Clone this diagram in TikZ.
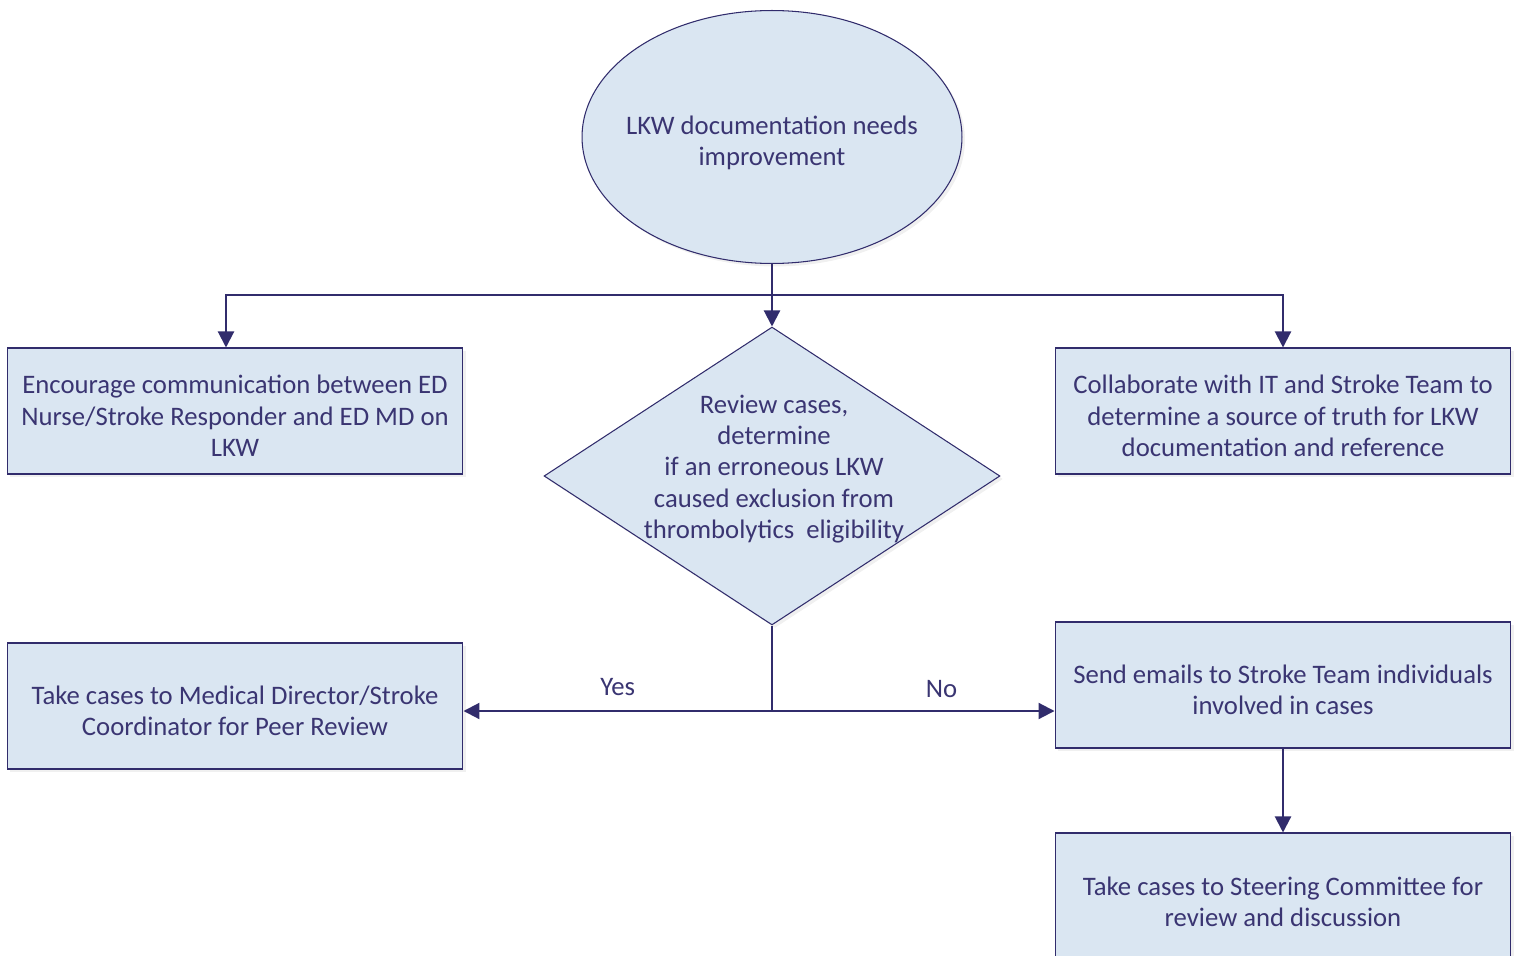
\documentclass[tikz,border=0pt]{standalone}
\usepackage{fontspec}
\setmainfont{Carlito}
\usetikzlibrary{shapes.geometric,arrows.meta,shadows}
\definecolor{navy}{HTML}{312C6C}
\definecolor{ink}{HTML}{3A3572}
\definecolor{paleblue}{HTML}{DAE6F2}

\begin{document}
\begin{tikzpicture}
[
x=0.02cm,y=-0.02cm,
>={Triangle[length=0.32cm,width=0.32cm]},
every node/.style={font=\fontsize{15.2}{17.8}\selectfont,text=ink},
conn/.style={draw=navy,line width=1.2pt},
soft/.style={drop shadow={opacity=0.12,shadow xshift=0.06cm,shadow yshift=-0.06cm}},
start/.style={ellipse,draw=navy,line width=0.6pt,fill=paleblue,minimum width=7.6cm,minimum height=5.06cm,inner sep=0pt,soft},
decision/.style={diamond,draw=navy,line width=0.6pt,fill=paleblue,minimum width=9.12cm,minimum height=5.96cm,inner sep=0pt,soft},
stepbox/.style={rectangle,draw=navy,line width=0.6pt,fill=paleblue,minimum width=9.12cm,minimum height=2.52cm,align=center,soft},
]
\useasboundingbox (0,0) rectangle (1518,956);

\node[start] (lkw) at (772,137) {};
\node[align=center] (lkwtxt) at (772,143) {LKW documentation needs\\improvement};
\node[decision] (rev) at (772,476) {};
\node[align=center] (revtxt) at (774,469) {Review cases,\\determine\\if an erroneous LKW\\caused exclusion from\\thrombolytics\ \ eligibility};
\node[stepbox] (enc) at (235,411) {};
\node[align=center] (enctxt) at (235,416) {Encourage communication between ED\\Nurse/Stroke Responder and ED MD on\\LKW};
\node[stepbox] (col) at (1283,411) {};
\node[align=center] (coltxt) at (1283,416) {Collaborate with IT and Stroke Team to\\determine a source of truth for LKW\\documentation and reference};
\node[stepbox] (peer) at (235,706) {};
\node[align=center] (peertxt) at (235,711) {Take cases to Medical Director/Stroke\\Coordinator for Peer Review};
\node[stepbox] (mail) at (1283,685) {};
\node[align=center] (mailtxt) at (1283,690) {Send emails to Stroke Team individuals\\involved in cases};
\node[stepbox] (steer) at (1283,896) {};
\node[align=center] (steertxt) at (1283,902) {Take cases to Steering Committee for\\review and discussion};

\coordinate (split) at (772,295);
\coordinate (fork) at (772,711);

\draw[conn,->] (lkw) -- (rev);
\draw[conn,->] (split) -| ([xshift=-0.18cm]enc.north);
\draw[conn,->] (split) -| (col);
\draw[conn] (rev) -- (fork);
\draw[conn,->] (fork) -- (fork -| peer.east) node[midway,above=0.16cm] {Yes};
\draw[conn,->] (fork) -- (fork -| mail.west) node[pos=0.6,above=0.12cm] {No};
\draw[conn,->] (mail) -- (steer);

\end{tikzpicture}
\end{document}
